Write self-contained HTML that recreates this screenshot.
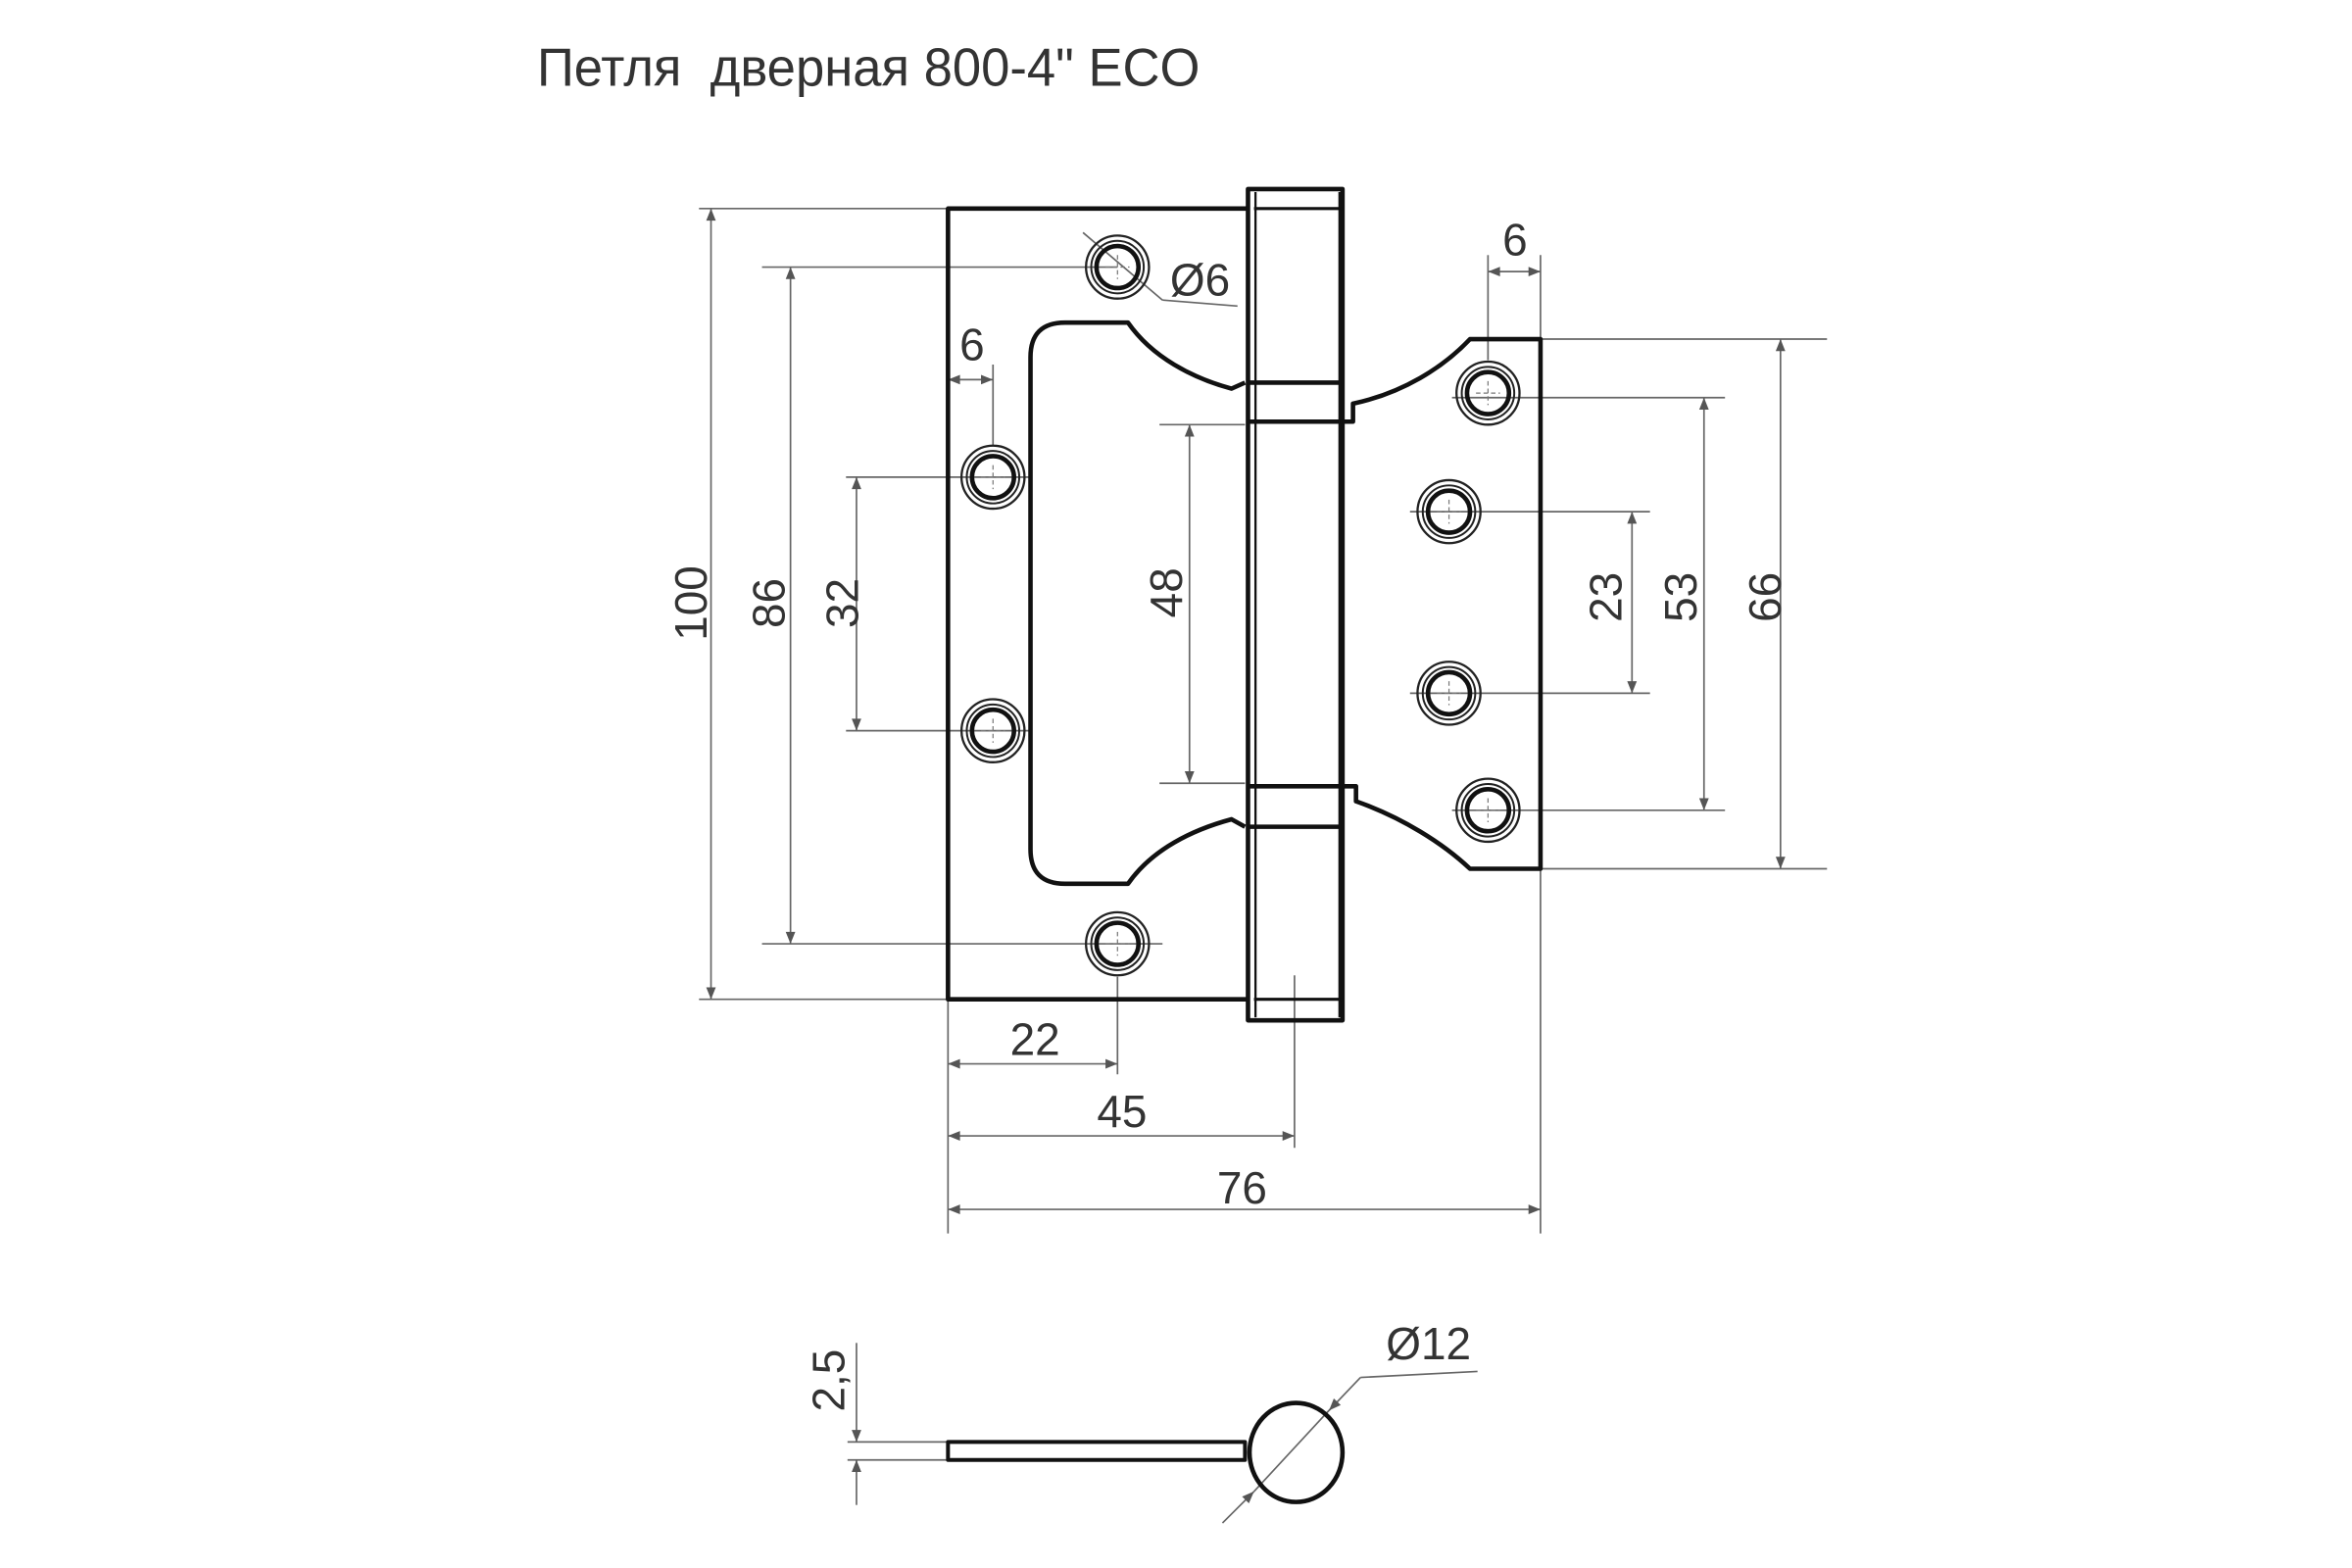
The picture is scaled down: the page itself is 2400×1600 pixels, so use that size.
<!DOCTYPE html>
<html><head><meta charset="utf-8"><style>
html,body{margin:0;padding:0;background:#fff;}
svg{display:block;}
text{font-family:"Liberation Sans","DejaVu Sans",sans-serif;fill:#333;white-space:pre;}
</style></head><body>
<svg width="2400" height="1600" viewBox="0 0 1568 1045" preserveAspectRatio="none" xmlns="http://www.w3.org/2000/svg">
<defs>
<marker id="a" viewBox="0 0 10 10" refX="10" refY="5" markerWidth="12" markerHeight="8" markerUnits="userSpaceOnUse" orient="auto-start-reverse"><path d="M0,1 L10,5 L0,9 z" fill="#555"/></marker>
<g id="hole">
<circle r="21" fill="none" stroke="#222" stroke-width="1.5"/>
<circle r="17.5" fill="none" stroke="#222" stroke-width="1.3"/>
<circle r="14" fill="none" stroke="#111" stroke-width="3"/>
<line x1="-8" y1="0" x2="8" y2="0" stroke="#777" stroke-width="0.8" stroke-dasharray="3,2"/>
<line x1="0" y1="-8" x2="0" y2="8" stroke="#777" stroke-width="0.8" stroke-dasharray="3,2"/>
</g>
</defs>
<rect width="1568" height="1045" fill="#fff"/>

<text x="358" y="57" font-size="36" textLength="442" lengthAdjust="spacingAndGlyphs">Петля&#160;&#160;дверная 800-4" ECO</text>

<g stroke="#666" stroke-width="1.1" fill="none">
<line x1="466" y1="139" x2="632" y2="139"/>
<line x1="466" y1="666" x2="632" y2="666"/>
<line x1="508" y1="178" x2="745" y2="178"/>
<line x1="508" y1="629" x2="775" y2="629"/>
<line x1="564" y1="318" x2="688" y2="318"/>
<line x1="564" y1="487" x2="688" y2="487"/>
<line x1="773" y1="283" x2="830" y2="283"/>
<line x1="773" y1="522" x2="830" y2="522"/>
<line x1="940" y1="341" x2="1100" y2="341"/>
<line x1="940" y1="462" x2="1100" y2="462"/>
<line x1="968" y1="265" x2="1150" y2="265"/>
<line x1="968" y1="540" x2="1150" y2="540"/>
<line x1="1027" y1="226" x2="1218" y2="226"/>
<line x1="1027" y1="579" x2="1218" y2="579"/>
<line x1="992" y1="170" x2="992" y2="240"/>
<line x1="1027" y1="170" x2="1027" y2="822"/>
<line x1="662" y1="243" x2="662" y2="297"/>
<line x1="632" y1="666" x2="632" y2="822"/>
<line x1="745" y1="651" x2="745" y2="716"/>
<line x1="863" y1="650" x2="863" y2="765"/>
<line x1="775" y1="200" x2="825" y2="204"/>
<line x1="722" y1="155" x2="775" y2="200"/>

<line x1="474" y1="139" x2="474" y2="666" marker-start="url(#a)" marker-end="url(#a)"/>
<line x1="527" y1="178" x2="527" y2="629" marker-start="url(#a)" marker-end="url(#a)"/>
<line x1="571" y1="318" x2="571" y2="487" marker-start="url(#a)" marker-end="url(#a)"/>
<line x1="793" y1="283" x2="793" y2="522" marker-start="url(#a)" marker-end="url(#a)"/>
<line x1="1088" y1="341" x2="1088" y2="462" marker-start="url(#a)" marker-end="url(#a)"/>
<line x1="1136" y1="265" x2="1136" y2="540" marker-start="url(#a)" marker-end="url(#a)"/>
<line x1="1187" y1="226" x2="1187" y2="579" marker-start="url(#a)" marker-end="url(#a)"/>
<line x1="992" y1="181" x2="1027" y2="181" marker-start="url(#a)" marker-end="url(#a)"/>
<line x1="632" y1="253" x2="662" y2="253" marker-start="url(#a)" marker-end="url(#a)"/>
<line x1="632" y1="709" x2="745" y2="709" marker-start="url(#a)" marker-end="url(#a)"/>
<line x1="632" y1="757" x2="863" y2="757" marker-start="url(#a)" marker-end="url(#a)"/>
<line x1="632" y1="806" x2="1027" y2="806" marker-start="url(#a)" marker-end="url(#a)"/>

<line x1="565" y1="961" x2="632" y2="961"/>
<line x1="565" y1="973" x2="632" y2="973"/>
<line x1="571" y1="895" x2="571" y2="961" marker-end="url(#a)"/>
<line x1="571" y1="1003" x2="571" y2="973" marker-end="url(#a)"/>
<line x1="815" y1="1015" x2="836" y2="994" marker-end="url(#a)"/>
<line x1="836" y1="994" x2="886" y2="940"/>
<line x1="886" y1="940" x2="907" y2="918" marker-start="url(#a)"/>
<line x1="907" y1="918" x2="985" y2="914"/>
</g>

<g stroke="#111" stroke-width="3" fill="none" stroke-linejoin="round">
<polyline points="832,139 632,139 632,666 832,666"/>
<rect x="832" y="126" width="63" height="554"/>
<line x1="836" y1="139" x2="895" y2="139" stroke-width="2"/>
<line x1="836" y1="666" x2="895" y2="666" stroke-width="2"/>
<line x1="837" y1="128" x2="837" y2="678" stroke-width="1.5"/>
<line x1="832" y1="255" x2="893" y2="255"/>
<line x1="832" y1="281" x2="895" y2="281"/>
<line x1="832" y1="524" x2="895" y2="524"/>
<line x1="832" y1="551" x2="893" y2="551"/>
<line x1="893" y1="128" x2="893" y2="678" stroke-width="1.5"/>
<path d="M830,255 L821,259 C795,252 768,238 752,215 L710,215 Q687,215 687,238 L687,566 Q687,589 710,589 L752,589 C768,566 795,553 821,546 L830,551"/>
<path d="M895,281 L902,281 L902,269 C935,262 962,245 980,226 L1027,226 L1027,579 L980,579 C962,562 935,545 904,534 L904,524 L895,524"/>
<rect x="632" y="961" width="198" height="12" stroke-width="2.6"/>
<ellipse cx="864" cy="968" rx="31" ry="33" stroke-width="3"/>
</g>

<use href="#hole" x="745" y="178"/>
<use href="#hole" x="662" y="318"/>
<use href="#hole" x="662" y="487"/>
<use href="#hole" x="745" y="629"/>
<use href="#hole" x="992" y="262"/>
<use href="#hole" x="966" y="341"/>
<use href="#hole" x="966" y="462"/>
<use href="#hole" x="992" y="540"/>

<g font-size="30">
<text transform="translate(471,402) rotate(-90)" text-anchor="middle">100</text>
<text transform="translate(523,402) rotate(-90)" text-anchor="middle">86</text>
<text transform="translate(572,402) rotate(-90)" text-anchor="middle">32</text>
<text transform="translate(788,395) rotate(-90)" text-anchor="middle">48</text>
<text transform="translate(1081,398) rotate(-90)" text-anchor="middle">23</text>
<text transform="translate(1131,398) rotate(-90)" text-anchor="middle">53</text>
<text transform="translate(1187,398) rotate(-90)" text-anchor="middle">66</text>
<text x="1010" y="170" text-anchor="middle">6</text>
<text x="648" y="240" text-anchor="middle">6</text>
<text x="690" y="703" text-anchor="middle">22</text>
<text x="748" y="751" text-anchor="middle">45</text>
<text x="828" y="802" text-anchor="middle">76</text>
<text x="780" y="197">Ø6</text>
<text x="924" y="906">Ø12</text>
<text transform="translate(563,920) rotate(-90)" text-anchor="middle">2,5</text>
</g>
</svg>
</body></html>
